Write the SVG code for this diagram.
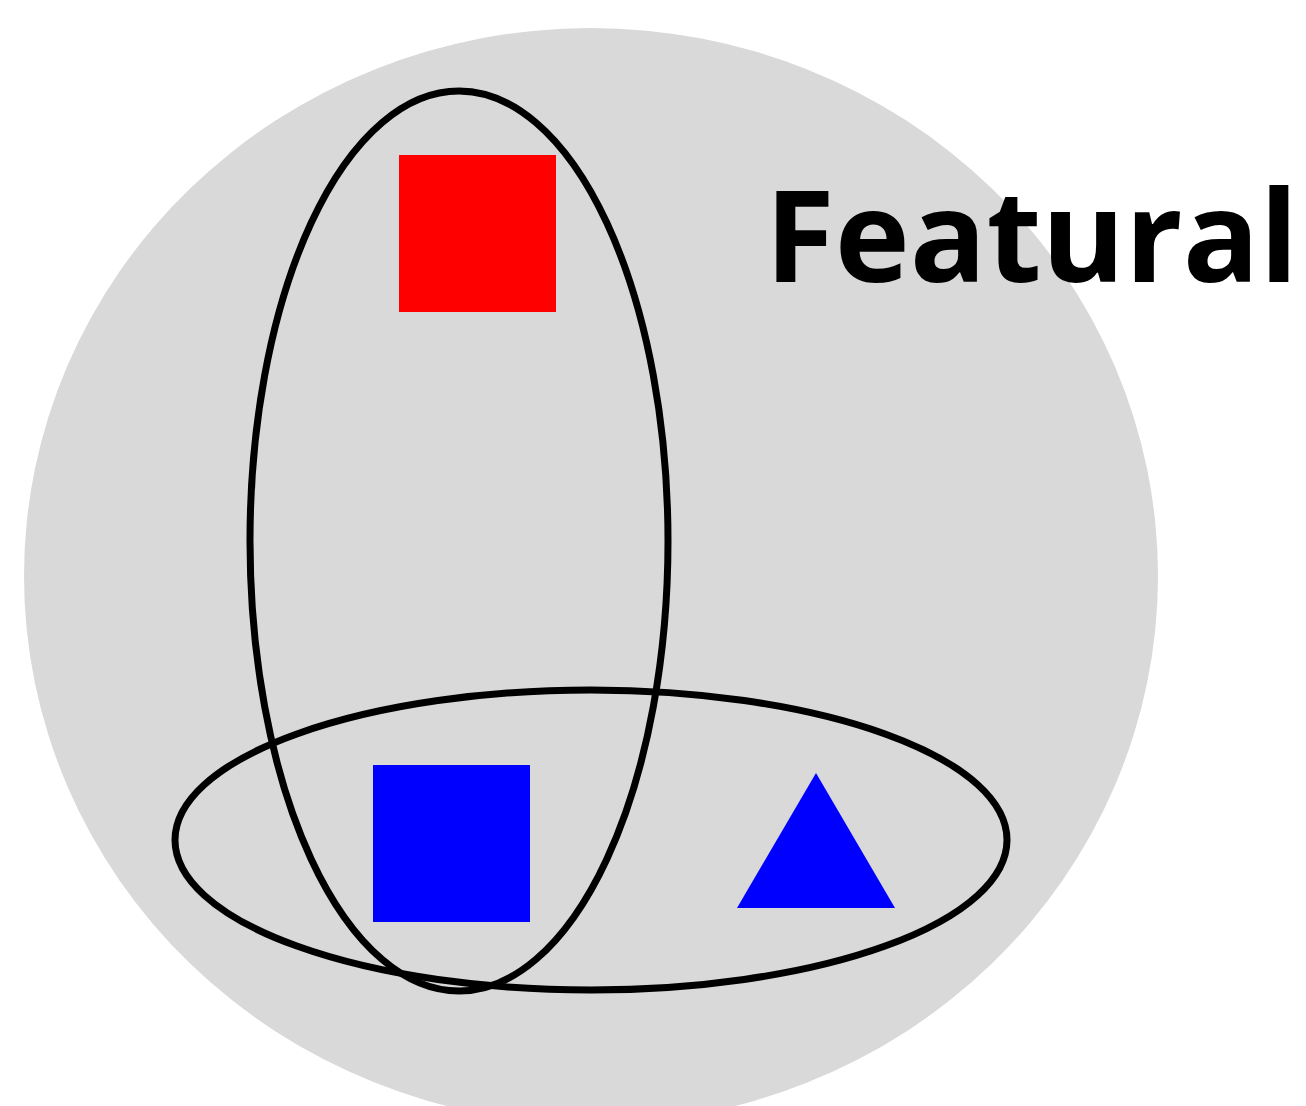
<svg xmlns="http://www.w3.org/2000/svg" width="1306" height="1106" viewBox="0 0 1306 1106">
<style>
.ring{fill:none;stroke:#000;stroke-width:7}
.blue{fill:#0000ff}
.lbl{font-family:"Open Sans",sans-serif;font-weight:bold;font-size:127px;fill:#000}
</style>
<rect width="1306" height="1106" fill="#fff"/>
<g id="universe"><ellipse cx="591" cy="576" rx="567" ry="548" fill="#d9d9d9"/></g>
<g id="label"><text class="lbl" x="765" y="282">Featural</text></g>
<g id="red-square"><rect x="399" y="155" width="157" height="157" fill="#ff0000"/></g>
<g id="blue-square"><rect class="blue" x="373" y="765" width="157" height="157"/></g>
<g id="blue-triangle"><polygon class="blue" points="816,773 895,908 737,908"/></g>
<g id="connectors">
<ellipse class="ring" cx="459" cy="541" rx="209" ry="450"/>
<ellipse class="ring" cx="591" cy="840" rx="416" ry="150"/>
</g>
</svg>
